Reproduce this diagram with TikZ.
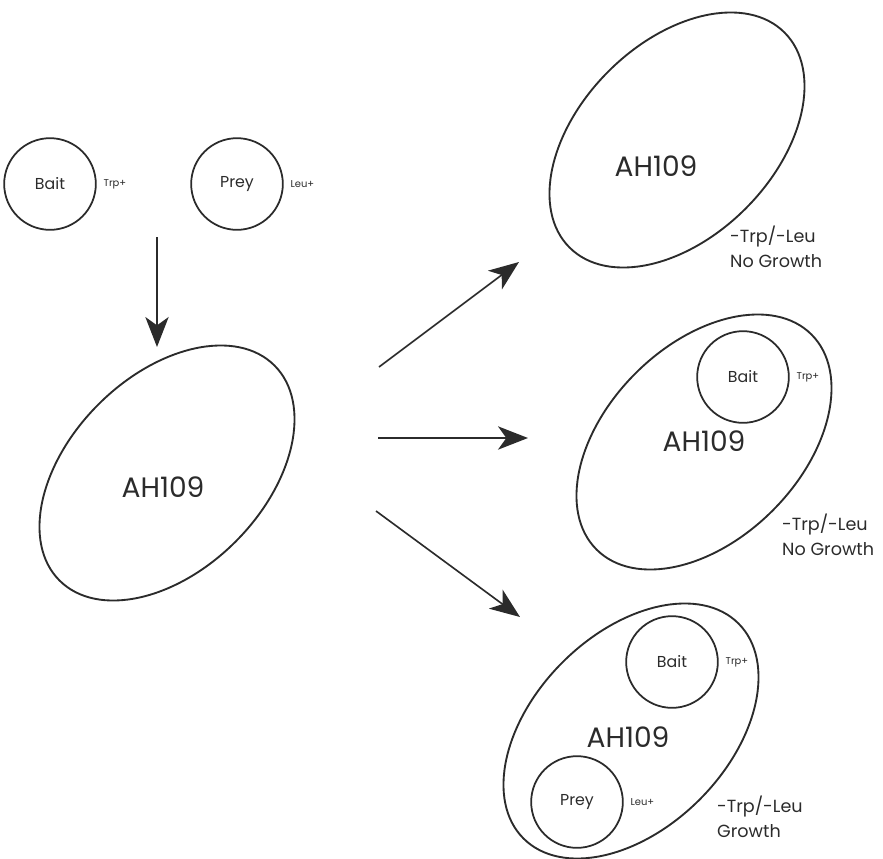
\documentclass[tikz,border=0pt]{standalone}
\usepackage{fontspec}
\setmainfont{Poppins}
\usetikzlibrary{arrows.meta,positioning,shapes.geometric}
\definecolor{ink}{HTML}{2B2B2B}

\begin{document}
\begin{tikzpicture}[
  x=0.03cm,y=-0.03cm,
  node distance=2mm,
  cell/.style={draw=ink,line width=1.6pt,ellipse,rotate=45,minimum width=9.12cm,minimum height=5.82cm,inner sep=0},
  plasmid/.style={draw=ink,line width=1.5pt,circle,minimum size=2.75cm,inner sep=0,text=ink,font=\fontsize{13.5}{15}\selectfont},
  marker/.style={inner sep=0,text=ink,font=\fontsize{8.5}{10}\selectfont},
  strain/.style={inner sep=0,text=ink,font=\fontsize{24}{28}\selectfont},
  medium/.style={inner sep=0,anchor=west,align=left,text=ink,font=\fontsize{15}{21}\selectfont},
  arrow/.style={-{Stealth[length=9mm,width=7mm,inset=2.5mm]},line width=1.4pt,draw=ink}
]
\useasboundingbox (0,0) rectangle (883,859);

% separate strains
\node[plasmid] (bait) at (50,184) {Bait};
\node[marker,right=of bait] (trp) {Trp+};
\node[plasmid] (prey) at (237,184) {Prey};
\node[marker,right=of prey] (leu) {Leu+};

% host
\node[cell] (host) at (167,473) {};
\node[strain] (ah) at (163,487) {AH109};

% no plasmid
\node[cell] (hostA) at (677,140) {};
\node[strain] (ahA) at (656,166) {AH109};
\node[medium] (medA) at (730,247) {-Trp/-Leu\\No Growth};

% bait only
\node[cell] (hostB) at (704,442) {};
\node[plasmid] (baitB) at (743,377) {Bait};
\node[marker,right=of baitB] (trpB) {Trp+};
\node[strain] (ahB) at (704,441) {AH109};
\node[medium] (medB) at (782,535) {-Trp/-Leu\\No Growth};

% bait and prey
\node[cell] (hostC) at (631,731) {};
\node[plasmid] (baitC) at (672,662) {Bait};
\node[marker,right=of baitC] (trpC) {Trp+};
\node[plasmid] (preyC) at (577,802) {Prey};
\node[marker,right=of preyC] (leuC) {Leu+};
\node[strain] (ahC) at (628,737) {AH109};
\node[medium] (medC) at (717,817) {-Trp/-Leu\\Growth};

% arrows
\coordinate (pair) at (157,237);
\coordinate (drop) at (157,347);
\coordinate (outA) at (379,367);
\coordinate (outB) at (378,438);
\coordinate (outC) at (376,511);
\coordinate (inA) at (519,262);
\coordinate (inB) at (528,438);
\coordinate (inC) at (520,617);
\draw[arrow] (pair) -- (drop);
\draw[arrow] (outA) -- (inA);
\draw[arrow] (outB) -- (inB);
\draw[arrow] (outC) -- (inC);
\end{tikzpicture}
\end{document}
